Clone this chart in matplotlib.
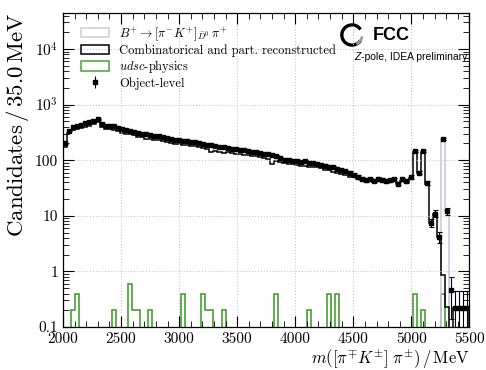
import matplotlib

matplotlib.use("Agg")
import matplotlib.pyplot as plt
import numpy as np
from matplotlib.patches import Arc, Patch
from matplotlib.ticker import FixedLocator, FuncFormatter, LogLocator, MultipleLocator, NullFormatter

plt.rcParams["font.family"] = "serif"
plt.rcParams["font.serif"] = ["cmr10", "DejaVu Serif"]
plt.rcParams["mathtext.fontset"] = "cm"
plt.rcParams["axes.unicode_minus"] = False

# 100 bins of 35 MeV between 2000 and 5500 MeV
bin_lo = 2000
bin_width = 35
n_bins = 100

object_level = [
    200, 340, 400, 410, 430, 470, 480, 510, 550, 440,
    420, 415, 405, 385, 360, 350, 335, 325, 310, 300,
    290, 280, 272, 268, 258, 252, 240, 235, 232, 225,
    222, 215, 213, 205, 195, 190, 185, 178, 172, 170,
    163, 162, 158, 155, 150, 148, 143, 140, 136, 132,
    128, 125, 118, 110, 102, 100, 98, 97, 93, 95,
    90, 88, 86, 82, 80, 76, 74, 70, 66, 64,
    60, 55, 50, 46, 44, 45, 43, 46, 44, 42,
    44, 45, 38, 45, 42, 50, 144, 60, 144, 39,
    7.5, 11, 4.2, 240, 12, 0.46, 0.22, 0.22, 0.22, 0.22,
]

combinatorial = [
    175, 310, 350, 360, 375, 400, 420, 440, 480, 390,
    365, 360, 345, 330, 315, 300, 290, 280, 265, 258,
    245, 240, 232, 228, 222, 212, 205, 198, 196, 190,
    188, 182, 180, 170, 165, 160, 140, 145, 142, 135,
    138, 135, 132, 128, 126, 124, 120, 118, 114, 110,
    105, 86, 98, 92, 88, 86, 84, 82, 80, 80,
    77, 75, 74, 71, 68, 66, 62, 60, 57, 55,
    50, 51, 46, 44, 42, 43, 41, 44, 42, 41,
    42, 43, 37, 43, 41, 48, 142, 58, 142, 38,
    7.3, 10.8, 4.1, 0.87, 0.23, 0, 0.22, 0.22, 0.22, 0.22,
]

signal_bins = [93, 94]
signal_vals = [240, 12]

udsc_bins = [2, 3, 12, 16, 17, 18, 21, 29, 34, 35, 36, 39, 52, 60, 65, 67, 86, 88, 93]
udsc_vals = [0.2, 0.4, 0.2, 0.6, 0.2, 0.2, 0.2, 0.4, 0.4, 0.2, 0.2, 0.2, 0.4, 0.2, 0.4, 0.4, 0.4, 0.2, 0.4]

event_weight = 0.22

edges = bin_lo + bin_width * np.arange(n_bins + 1)
centres = 0.5 * (edges[:-1] + edges[1:])

floor = 1e-4  # empty bins drawn below the axis
signal = np.full(n_bins, floor)
signal[signal_bins] = signal_vals
udsc = np.full(n_bins, floor)
udsc[udsc_bins] = udsc_vals
comb = np.array(combinatorial, dtype=float)
comb[comb <= 0] = floor
obj = np.array(object_level, dtype=float)
err = np.sqrt(obj * event_weight)
err_lo = np.minimum(err, 0.999 * obj)

fig = plt.figure(figsize=(4.86, 3.70), dpi=100)
ax = fig.add_axes([0.1296, 0.1162, 0.8364, 0.8495])

col_sig = "#cfc8e0"
col_comb = "black"
col_udsc = "#46a035"

ax.stairs(udsc, edges, color=col_udsc, lw=1.2, baseline=floor)
ax.stairs(signal, edges, color=col_sig, lw=1.2, baseline=floor)
ax.stairs(comb, edges, color=col_comb, lw=1.1, baseline=floor)
ax.errorbar(centres, obj, yerr=[err_lo, err], fmt="s", color="black", ms=2.2,
            elinewidth=0.8, capsize=1.8, capthick=0.8, zorder=5)

ax.set_yscale("log")
ax.set_xlim(2000, 5500)
ax.set_ylim(0.1, 4.5e4)


def y_label_fmt(v, pos):
    if v >= 1000:
        return r"$10^{%d}$" % round(np.log10(v))
    if v >= 1:
        return "%d" % round(v)
    return "%g" % v


ax.yaxis.set_major_locator(FixedLocator([0.1, 1, 10, 100, 1e3, 1e4]))
ax.yaxis.set_major_formatter(FuncFormatter(y_label_fmt))
ax.yaxis.set_minor_locator(LogLocator(base=10, subs=np.arange(2, 10), numticks=20))
ax.yaxis.set_minor_formatter(NullFormatter())
ax.xaxis.set_major_locator(MultipleLocator(500))
ax.xaxis.set_minor_locator(MultipleLocator(100))

ax.tick_params(which="both", direction="in", top=True, right=True, labelsize=11)
ax.tick_params(axis="x", pad=4)
ax.tick_params(which="major", length=8, width=0.8)
ax.tick_params(which="minor", length=4, width=0.6)
ax.grid(True, which="major", ls=":", color="#c8c8c8", lw=0.8)
for s in ax.spines.values():
    s.set_linewidth(0.9)

ax.set_ylabel(r"Candidates$\,/\,$35.0$\,$MeV", fontsize=16.5, labelpad=3, loc="top")
ax.set_xlabel(r"$m([\pi^{\mp}K^{\pm}]\;\pi^{\pm})\,/\,$MeV", fontsize=12, loc="right", labelpad=0.5)

handles = [
    Patch(facecolor="none", edgecolor=col_sig, lw=1.1),
    Patch(facecolor="none", edgecolor=col_comb, lw=1.1),
    Patch(facecolor="none", edgecolor=col_udsc, lw=1.1),
    ax.errorbar([], [], yerr=[], fmt="s", color="black", ms=2.2, elinewidth=0.8, capsize=1.8),
]
labels = [
    r"$B^{+}\to[\pi^{-}K^{+}]_{\bar{D}^{0}}\,\pi^{+}$",
    "Combinatorical and part. reconstructed",
    r"$udsc$-physics",
    "Object-level",
]
ax.legend(handles, labels, loc="upper left", bbox_to_anchor=(0.025, 0.985), frameon=False,
          fontsize=9, handlelength=2.3, handleheight=0.8, labelspacing=0.12, handletextpad=0.8,
          borderaxespad=0.2)

# FCC logo
ax.add_patch(Arc((0.711, 0.929), 0.05, 0.064, theta1=40, theta2=320, transform=ax.transAxes,
                 color="black", lw=2.4))
ax.add_patch(Arc((0.711, 0.929), 0.05, 0.064, theta1=290, theta2=350, transform=ax.transAxes,
                 color="#9a9a9a", lw=1.8))
ax.text(0.762, 0.929, "FCC", transform=ax.transAxes, ha="left", va="center",
        family="Liberation Sans", weight="bold", fontsize=13)
t = ax.text(0.994, 0.859, "-pole, IDEA preliminary", transform=ax.transAxes, ha="right",
            va="center", family="Liberation Sans", fontsize=7.5)
ax.annotate("Z", xy=(0, 0.5), xycoords=t, ha="right", va="center", family="Liberation Sans",
            fontstyle="italic", fontsize=7.5)

fig.savefig("out.png", dpi=100)
